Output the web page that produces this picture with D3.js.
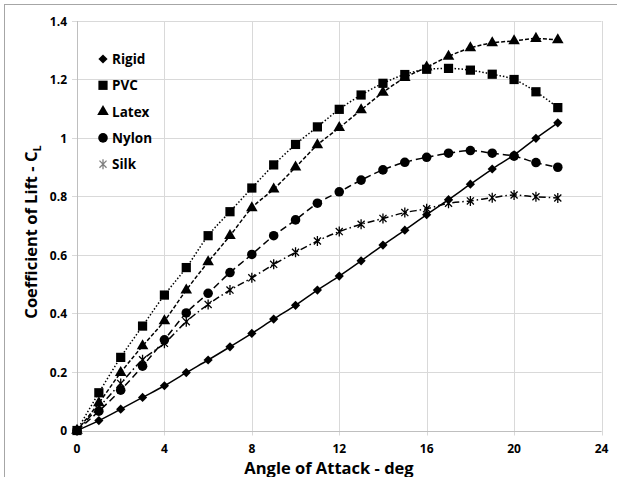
<!DOCTYPE html>
<html>
<head>
<meta charset="utf-8">
<script src="https://cdn.jsdelivr.net/npm/d3@7"></script>
<style>
  body { margin: 0; background: #fff; }
  text { font-family: "Open Sans", Lato, sans-serif; font-weight: bold; fill: #000; }
</style>
</head>
<body>
<svg id="chart" width="617" height="477"></svg>
<script>
// angle of attack, deg
var angles = d3.range(0, 23);

var rigid = [0, 0.034, 0.073, 0.113, 0.153, 0.198, 0.241, 0.286, 0.332, 0.381, 0.428, 0.48, 0.528, 0.58, 0.634, 0.685, 0.738, 0.789, 0.842, 0.894, 0.942, 0.999, 1.052];
var pvc = [0, 0.129, 0.25, 0.357, 0.463, 0.557, 0.666, 0.748, 0.829, 0.908, 0.978, 1.038, 1.098, 1.147, 1.187, 1.217, 1.235, 1.238, 1.232, 1.218, 1.2, 1.158, 1.104];
var latex = [0, 0.094, 0.198, 0.289, 0.375, 0.48, 0.576, 0.666, 0.761, 0.825, 0.9, 0.976, 1.035, 1.096, 1.156, 1.206, 1.242, 1.279, 1.308, 1.325, 1.332, 1.34, 1.335];
var nylon = [0, 0.066, 0.138, 0.22, 0.31, 0.402, 0.469, 0.54, 0.602, 0.666, 0.72, 0.777, 0.816, 0.856, 0.891, 0.917, 0.934, 0.948, 0.957, 0.948, 0.938, 0.916, 0.9];
var silk = [0, 0.08, 0.161, 0.242, 0.298, 0.372, 0.431, 0.48, 0.522, 0.568, 0.609, 0.648, 0.68, 0.705, 0.725, 0.745, 0.758, 0.777, 0.785, 0.796, 0.805, 0.799, 0.795];

var seriesNames = ["Rigid", "PVC", "Latex", "Nylon", "Silk"];
var xTicks = [0, 4, 8, 12, 16, 20, 24];
var yTicks = [0, 0.2, 0.4, 0.6, 0.8, 1, 1.2, 1.4];

var series = [
  { name: "Rigid", values: rigid, symbol: "diamond", size: 4.6, dash: null },
  { name: "PVC", values: pvc, symbol: d3.symbolSquare, size: 85, dash: "1.5,2" },
  { name: "Latex", values: latex, symbol: d3.symbolTriangle, size: 58, dash: "4,2" },
  { name: "Nylon", values: nylon, symbol: d3.symbolCircle, size: 72, dash: "7,4" },
  { name: "Silk", values: silk, symbol: "star", size: 5, dash: "7,3,1.5,3" }
];

var svg = d3.select("#chart");

// outer frame (only top and left edges fall inside the picture)
svg.append("rect")
    .attr("x", 4.5).attr("y", 4.5)
    .attr("width", 700).attr("height", 600)
    .attr("fill", "none")
    .attr("stroke", "#a6a6a6");

var x = d3.scaleLinear().domain([0, 24]).range([77, 601.5]);
var y = d3.scaleLinear().domain([0, 1.4]).range([430.5, 21]);

// grid
svg.append("g").selectAll("line")
  .data(yTicks)
  .enter().append("line")
    .attr("x1", x(0) - 5).attr("x2", x(24))
    .attr("y1", d => Math.round(y(d)) + 0.5).attr("y2", d => Math.round(y(d)) + 0.5)
    .attr("stroke", "#d9d9d9");

svg.append("g").selectAll("line")
  .data(xTicks)
  .enter().append("line")
    .attr("y1", y(1.4)).attr("y2", y(0) + 5)
    .attr("x1", d => Math.round(x(d)) + 0.5).attr("x2", d => Math.round(x(d)) + 0.5)
    .attr("stroke", "#d9d9d9");

// axis lines
svg.append("line")
    .attr("x1", x(0)).attr("x2", x(24))
    .attr("y1", Math.round(y(0)) + 0.5).attr("y2", Math.round(y(0)) + 0.5)
    .attr("stroke", "#bfbfbf");
svg.append("line")
    .attr("x1", Math.round(x(0)) + 0.5).attr("x2", Math.round(x(0)) + 0.5)
    .attr("y1", y(1.4)).attr("y2", y(0))
    .attr("stroke", "#bfbfbf");

// tick labels
svg.append("g").selectAll("text")
  .data(xTicks)
  .enter().append("text")
    .attr("x", d => x(d))
    .attr("y", y(0) + 22)
    .attr("text-anchor", "middle")
    .attr("font-size", "12px")
    .text(d => d);

svg.append("g").selectAll("text")
  .data(yTicks)
  .enter().append("text")
    .attr("x", x(0) - 10)
    .attr("y", d => y(d) + 4.5)
    .attr("text-anchor", "end")
    .attr("font-size", "12px")
    .text(d => d);

// axis titles
svg.append("text")
    .attr("x", 329)
    .attr("y", 473.5)
    .attr("text-anchor", "middle")
    .attr("font-size", "16.5px")
    .text("Angle of Attack - deg");

var yTitle = svg.append("text")
    .attr("transform", "translate(37,232) rotate(-90)")
    .attr("text-anchor", "middle")
    .attr("font-size", "16.5px");
yTitle.append("tspan").text("Coefficient of Lift - C");
yTitle.append("tspan").attr("font-size", "11px").attr("dy", 4).text("L");

function drawSymbol(g, s) {
  if (s.symbol === "star") {
    var r = s.size;
    var p = "";
    [90, 45, -45].forEach(function (a) {
      var dx = r * Math.cos(a * Math.PI / 180), dy = r * Math.sin(a * Math.PI / 180);
      p += "M" + (-dx) + "," + (-dy) + "L" + dx + "," + dy;
    });
    g.append("path").attr("d", p).attr("stroke", "#000").attr("stroke-width", 1.3).attr("fill", "none");
  } else if (s.symbol === "diamond") {
    var r = s.size;
    g.append("path")
      .attr("d", "M0," + (-r) + "L" + r + ",0L0," + r + "L" + (-r) + ",0Z")
      .attr("fill", "#000");
  } else {
    g.append("path")
      .attr("d", d3.symbol().type(s.symbol).size(s.size)())
      .attr("fill", "#000");
  }
}

var line = d3.line()
    .x((d, i) => x(angles[i]))
    .y(d => y(d))
    .curve(d3.curveMonotoneX);

series.forEach(function (s) {
  svg.append("path")
    .datum(s.values)
    .attr("d", line)
    .attr("fill", "none")
    .attr("stroke", "#000")
    .attr("stroke-width", 1.5)
    .attr("stroke-dasharray", s.dash);

  s.values.forEach(function (v, i) {
    var g = svg.append("g").attr("transform", "translate(" + x(angles[i]) + "," + y(v) + ")");
    drawSymbol(g, s);
  });
});

// legend
var legend = svg.append("g").attr("transform", "translate(103,59)");
seriesNames.forEach(function (name, i) {
  var s = series.find(d => d.name === name);
  var g = legend.append("g").attr("transform", "translate(0," + (i * 26.3) + ")");
  var m = g.append("g");
  drawSymbol(m, s);
  if (name === "Silk") m.attr("opacity", 0.5);
  g.append("text")
    .attr("x", 9)
    .attr("y", 5)
    .attr("font-size", "13.5px")
    .text(name);
});
</script>
</body>
</html>
